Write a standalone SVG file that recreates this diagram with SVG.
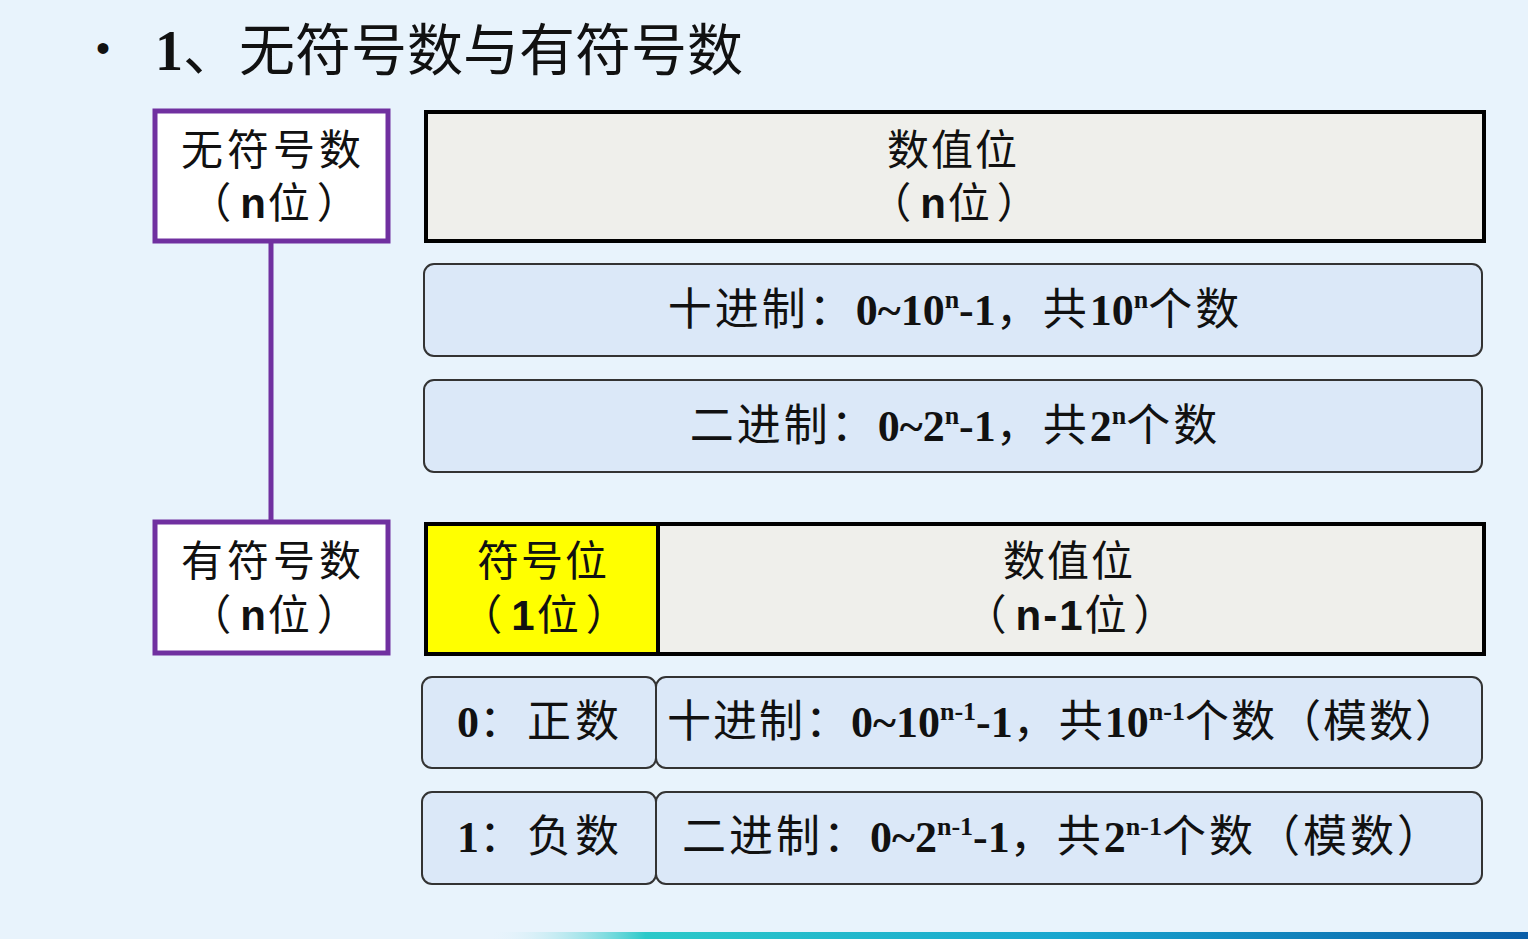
<svg xmlns="http://www.w3.org/2000/svg" width="1528" height="939" viewBox="0 0 1528 939">
<defs>
<linearGradient id="bar" x1="0" y1="0" x2="1" y2="0">
<stop offset="0" stop-color="#e6f3fb" stop-opacity="0"/>
<stop offset="0.15" stop-color="#2bc9c9"/>
<stop offset="0.55" stop-color="#18a6cf"/>
<stop offset="1" stop-color="#0a5ea8"/>
</linearGradient>
<style>
.cjk{font-family:"Liberation Serif","Noto Sans CJK SC",serif;fill:#111}
.lbl{font-family:"Noto Sans CJK SC","Liberation Sans",sans-serif;fill:#111;font-size:42px;text-anchor:middle}
.lp{letter-spacing:9px}
.lw{letter-spacing:7px}
.nb{font-family:"Liberation Sans","Noto Sans CJK SC",sans-serif;font-weight:bold;letter-spacing:2px}
.num{font-family:"Liberation Serif",serif;font-weight:bold;letter-spacing:0}
.sup{font-size:26px}
.purple{fill:#ffffff;stroke:#7030a0;stroke-width:5}
.field{fill:#efefeb;stroke:#000;stroke-width:4}
.sign{fill:#ffff00;stroke:#000;stroke-width:4}
.pill{fill:#dbe8f8;stroke:#333;stroke-width:2}
.line{stroke:#7030a0;stroke-width:5;fill:none}
.row{font-family:"Noto Sans CJK SC","Liberation Serif",serif;font-size:44px;fill:#111;text-anchor:middle}
.c{letter-spacing:3px}
.c2{letter-spacing:2px}
</style>
</defs>
<rect width="1528" height="939" fill="#e8f3fc"/>
<rect x="490" y="932" width="1038" height="7" fill="url(#bar)"/>

<g id="title">
<text x="96" y="62" font-family="Liberation Sans,sans-serif" font-size="40" fill="#111">•</text>
<text x="155" y="70" font-size="56" class="cjk"><tspan class="num">1</tspan><tspan>、无符号数与有符号数</tspan></text>
</g>

<g id="connectors">
<line class="line" x1="271" y1="241" x2="271" y2="522"/>
</g>

<g id="unsigned">
<rect class="purple" x="155" y="111" width="233" height="130"/>
<text class="lbl" x="273" y="165" letter-spacing="4">无符号数</text>
<text class="lbl" x="274" y="218"><tspan class="lp">（</tspan><tspan class="nb">n</tspan><tspan class="lw">位</tspan>）</text>
</g>

<g id="unsigned-value">
<rect class="field" x="426" y="112" width="1058" height="129"/>
<text class="lbl" x="953" y="165" letter-spacing="2">数值位</text>
<text class="lbl" x="954" y="218"><tspan class="lp">（</tspan><tspan class="nb">n</tspan><tspan class="lw">位</tspan>）</text>
</g>

<g id="unsigned-dec">
<rect class="pill" x="424" y="264" width="1058" height="92" rx="10"/>
<text class="row" x="955" y="325"><tspan class="c">十进制：</tspan><tspan class="num">0~10</tspan><tspan class="num sup" dy="-17">n</tspan><tspan class="num" dy="17">-1</tspan><tspan class="c">，共</tspan><tspan class="num">10</tspan><tspan class="num sup" dy="-17">n</tspan><tspan class="c" dy="17">个数</tspan></text>
</g>

<g id="unsigned-bin">
<rect class="pill" x="424" y="380" width="1058" height="92" rx="10"/>
<text class="row" x="955" y="441"><tspan class="c">二进制：</tspan><tspan class="num">0~2</tspan><tspan class="num sup" dy="-17">n</tspan><tspan class="num" dy="17">-1</tspan><tspan class="c">，共</tspan><tspan class="num">2</tspan><tspan class="num sup" dy="-17">n</tspan><tspan class="c" dy="17">个数</tspan></text>
</g>

<g id="signed">
<rect class="purple" x="155" y="522" width="233" height="131"/>
<text class="lbl" x="273" y="576" letter-spacing="4">有符号数</text>
<text class="lbl" x="274" y="630"><tspan class="lp">（</tspan><tspan class="nb">n</tspan><tspan class="lw">位</tspan>）</text>
</g>

<g id="sign-bit">
<rect class="sign" x="426" y="524" width="232" height="130"/>
<text class="lbl" x="543" y="576" letter-spacing="2">符号位</text>
<text class="lbl" x="544" y="630"><tspan class="lp">（</tspan><tspan class="nb">1</tspan><tspan class="lw">位</tspan>）</text>
</g>

<g id="signed-value">
<rect class="field" x="658" y="524" width="826" height="130"/>
<text class="lbl" x="1069" y="576" letter-spacing="2">数值位</text>
<text class="lbl" x="1070" y="630"><tspan class="lp">（</tspan><tspan class="nb" letter-spacing="0">n-1</tspan><tspan class="lw">位</tspan>）</text>
</g>

<g id="positive">
<rect class="pill" x="422" y="677" width="234" height="91" rx="10"/>
<text class="row" x="540" y="737" letter-spacing="4"><tspan class="num">0</tspan>：正数</text>
</g>

<g id="signed-dec">
<rect class="pill" x="656" y="677" width="826" height="91" rx="10"/>
<text class="row" x="1064" y="737"><tspan class="c2">十进制：</tspan><tspan class="num">0~10</tspan><tspan class="num sup" dy="-17">n-1</tspan><tspan class="num" dy="17">-1</tspan><tspan class="c2">，共</tspan><tspan class="num">10</tspan><tspan class="num sup" dy="-17">n-1</tspan><tspan class="c2" dy="17">个数（模数）</tspan></text>
</g>

<g id="negative">
<rect class="pill" x="422" y="792" width="234" height="92" rx="10"/>
<text class="row" x="540" y="852" letter-spacing="4"><tspan class="num">1</tspan>：负数</text>
</g>

<g id="signed-bin">
<rect class="pill" x="656" y="792" width="826" height="92" rx="10"/>
<text class="row" x="1063" y="852"><tspan class="c">二进制：</tspan><tspan class="num">0~2</tspan><tspan class="num sup" dy="-17">n-1</tspan><tspan class="num" dy="17">-1</tspan><tspan class="c">，共</tspan><tspan class="num">2</tspan><tspan class="num sup" dy="-17">n-1</tspan><tspan class="c" dy="17">个数（模数）</tspan></text>
</g>
</svg>
